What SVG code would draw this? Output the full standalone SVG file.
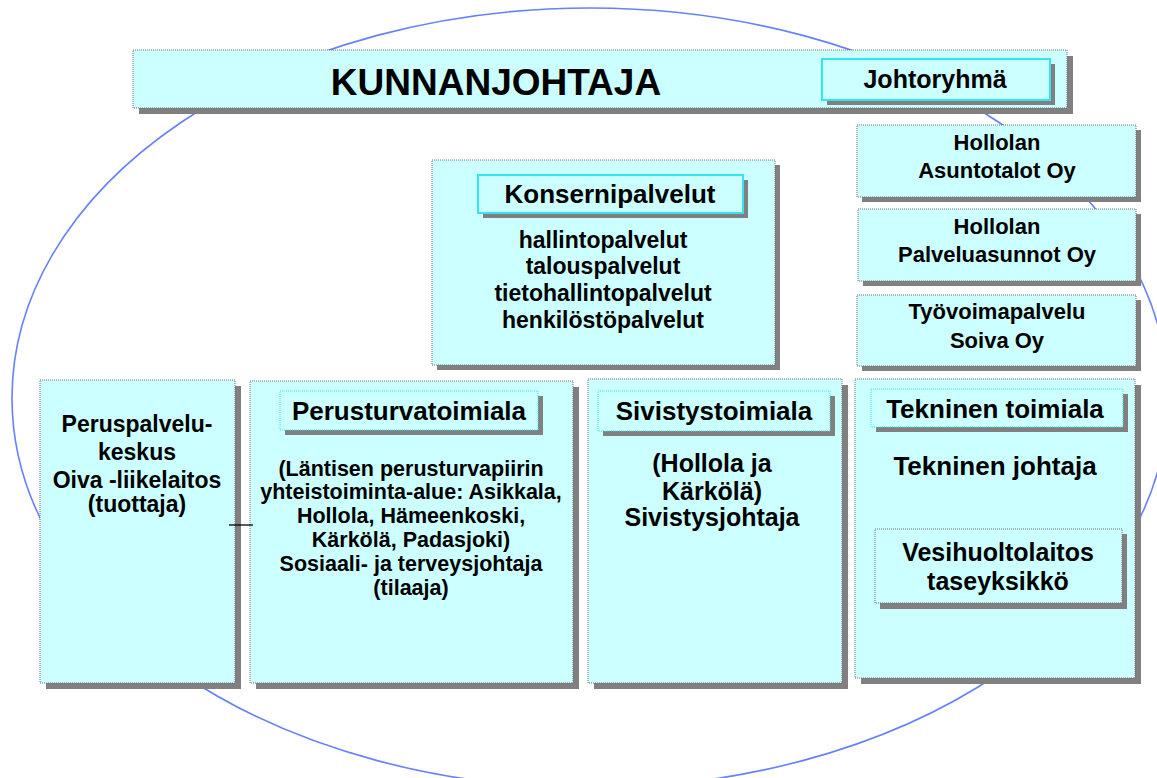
<svg xmlns="http://www.w3.org/2000/svg" width="1157" height="778" viewBox="0 0 1157 778">
<style>
.bg{fill:#ffffff}
.ell{fill:none;stroke:#6680ff;stroke-width:1.6}
.box{fill:#CCFFFF;stroke:#707070;stroke-width:1;stroke-dasharray:1 1}
.sh{fill:#808080}
.tbs{fill:#CCFFFF;stroke:#33E6EE;stroke-width:2}
.tbd{fill:#CCFFFF;stroke:#33E6EE;stroke-width:1;stroke-dasharray:1 1}
.conn{stroke:#000;stroke-width:1.3;fill:none}
text{font-family:"Liberation Sans",Arial,sans-serif;font-weight:bold;fill:#000;text-anchor:middle}
.t37{font-size:37px}
.t26{font-size:26px}
.t25{font-size:25px}
.t23{font-size:23px}
.t22{font-size:22px}
.t21{font-size:21.5px}
</style>
<rect class="bg" x="0" y="0" width="1157" height="778"/>
<ellipse class="ell" cx="590" cy="398" rx="578" ry="390"/>

<g id="kunnanjohtaja">
<rect class="sh" x="139" y="56" width="934" height="58"/>
<rect class="box" x="133" y="50" width="934" height="58"/>
<text class="t37" x="496" y="95">KUNNANJOHTAJA</text>
</g>
<g id="johtoryhma">
<rect class="sh" x="827" y="64" width="228" height="41"/>
<rect class="tbs" x="822" y="59" width="228" height="41"/>
<text class="t25" x="935" y="88">Johtoryhmä</text>
</g>

<g id="konsernipalvelut">
<rect class="sh" x="437" y="165" width="343" height="205"/>
<rect class="box" x="432" y="160" width="343" height="205"/>
<rect class="sh" x="483" y="180" width="265" height="38"/>
<rect class="tbs" x="478" y="175" width="265" height="38"/>
<text class="t26" x="610" y="203">Konsernipalvelut</text>
<text class="t23" x="603" y="248">hallintopalvelut</text>
<text class="t23" x="603" y="274">talouspalvelut</text>
<text class="t23" x="603" y="301">tietohallintopalvelut</text>
<text class="t23" x="603" y="328">henkilöstöpalvelut</text>
</g>

<g id="asuntotalot">
<rect class="sh" x="862" y="130" width="279" height="72"/>
<rect class="box" x="857" y="125" width="279" height="72"/>
<text class="t22" x="997" y="150">Hollolan</text>
<text class="t22" x="997" y="178">Asuntotalot Oy</text>
</g>
<g id="palveluasunnot">
<rect class="sh" x="863" y="214" width="278" height="72"/>
<rect class="box" x="858" y="209" width="278" height="72"/>
<text class="t22" x="997" y="234">Hollolan</text>
<text class="t22" x="997" y="262">Palveluasunnot Oy</text>
</g>
<g id="soiva">
<rect class="sh" x="862" y="300" width="279" height="71"/>
<rect class="box" x="857" y="295" width="279" height="71"/>
<text class="t22" x="997" y="319">Työvoimapalvelu</text>
<text class="t22" x="997" y="348">Soiva Oy</text>
</g>

<g id="peruspalvelukeskus">
<rect class="sh" x="46" y="386" width="195" height="303"/>
<rect class="box" x="40" y="380" width="195" height="303"/>
<text class="t23" x="137" y="432">Peruspalvelu-</text>
<text class="t23" x="137" y="460">keskus</text>
<text class="t23" x="137" y="488">Oiva -liikelaitos</text>
<text class="t23" x="137" y="512">(tuottaja)</text>
</g>

<g id="perusturvatoimiala">
<rect class="sh" x="256" y="387" width="323" height="302"/>
<rect class="box" x="250" y="381" width="323" height="302"/>
<rect class="sh" x="285" y="396" width="258" height="39"/>
<rect class="tbd" x="280" y="391" width="258" height="39"/>
<text class="t26" x="409" y="420">Perusturvatoimiala</text>
<text class="t21" x="411" y="476">(Läntisen perusturvapiirin</text>
<text class="t21" x="411" y="499">yhteistoiminta-alue: Asikkala,</text>
<text class="t21" x="411" y="523">Hollola, Hämeenkoski,</text>
<text class="t21" x="411" y="547">Kärkölä, Padasjoki)</text>
<text class="t21" x="411" y="571">Sosiaali- ja terveysjohtaja</text>
<text class="t21" x="411" y="595">(tilaaja)</text>
</g>

<g id="sivistystoimiala">
<rect class="sh" x="594" y="385" width="254" height="304"/>
<rect class="box" x="588" y="379" width="254" height="304"/>
<rect class="sh" x="603" y="396" width="232" height="40"/>
<rect class="tbd" x="598" y="391" width="232" height="40"/>
<text class="t26" x="714" y="420">Sivistystoimiala</text>
<text class="t25" x="712" y="472">(Hollola ja</text>
<text class="t25" x="712" y="500">Kärkölä)</text>
<text class="t25" x="712" y="526">Sivistysjohtaja</text>
</g>

<g id="tekninen">
<rect class="sh" x="861" y="385" width="280" height="299"/>
<rect class="box" x="855" y="379" width="280" height="299"/>
<rect class="sh" x="876" y="394" width="252" height="38"/>
<rect class="tbd" x="871" y="389" width="252" height="38"/>
<text class="t26" x="995" y="418">Tekninen toimiala</text>
<text class="t26" x="995" y="475">Tekninen johtaja</text>
</g>
<g id="vesihuoltolaitos">
<rect class="sh" x="880" y="534" width="247" height="75"/>
<rect class="box" x="875" y="529" width="247" height="74"/>
<text class="t25" x="998" y="561">Vesihuoltolaitos</text>
<text class="t25" x="998" y="590">taseyksikkö</text>
</g>

<g id="connectors">
<line class="conn" x1="229" y1="525" x2="253" y2="525"/>
</g>
</svg>
